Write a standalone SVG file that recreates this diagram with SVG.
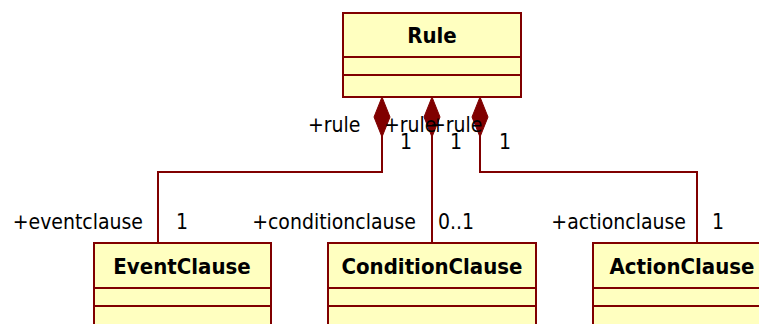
<svg xmlns="http://www.w3.org/2000/svg" width="759" height="324" viewBox="0 0 759 324">
<style>
.box{fill:#ffffc0;stroke:#800000;stroke-width:2}
.div{stroke:#800000;stroke-width:2}
.conn{fill:none;stroke:#800000;stroke-width:2}
.dia{fill:#800000;stroke:#800000;stroke-width:1}
.t{font-family:"DejaVu Sans Condensed","DejaVu Sans",sans-serif;font-size:22px;font-weight:bold;fill:#000;text-anchor:middle}
.l{font-family:"DejaVu Sans Condensed","DejaVu Sans",sans-serif;font-size:21px;fill:#000}
</style>
<rect width="759" height="324" fill="#fff"/>
<g id="connectors">
<polyline class="conn" points="382,117 382,172 158,172 158,243"/>
<polyline class="conn" points="432,117 432,243"/>
<polyline class="conn" points="480,117 480,172 697,172 697,243"/>
<polygon class="dia" points="382,97 390,117 382,137 374,117"/>
<polygon class="dia" points="432,97 440,117 432,137 424,117"/>
<polygon class="dia" points="480,97 488,117 480,137 472,117"/>
<text class="l" x="308" y="132">+rule</text>
<text class="l" x="384" y="132">+rule</text>
<text class="l" x="430" y="132">+rule</text>
<text class="l" x="400" y="149">1</text>
<text class="l" x="450" y="149">1</text>
<text class="l" x="499" y="149">1</text>
<text class="l" x="143" y="229" text-anchor="end">+eventclause</text>
<text class="l" x="176" y="229">1</text>
<text class="l" x="416" y="229" text-anchor="end">+conditionclause</text>
<text class="l" x="438" y="229">0..1</text>
<text class="l" x="686" y="229" text-anchor="end">+actionclause</text>
<text class="l" x="712" y="229">1</text>
</g>
<g id="Rule">
<rect class="box" x="343" y="13" width="178" height="84"/>
<line class="div" x1="343" y1="57" x2="521" y2="57"/>
<line class="div" x1="343" y1="75" x2="521" y2="75"/>
<text class="t" x="432" y="43">Rule</text>
</g>
<g id="EventClause">
<rect class="box" x="94" y="243" width="177" height="100"/>
<line class="div" x1="94" y1="288" x2="271" y2="288"/>
<line class="div" x1="94" y1="306" x2="271" y2="306"/>
<text class="t" x="182" y="274">EventClause</text>
</g>
<g id="ConditionClause">
<rect class="box" x="328" y="243" width="208" height="100"/>
<line class="div" x1="328" y1="288" x2="536" y2="288"/>
<line class="div" x1="328" y1="306" x2="536" y2="306"/>
<text class="t" x="432" y="274">ConditionClause</text>
</g>
<g id="ActionClause">
<rect class="box" x="593" y="243" width="180" height="100"/>
<line class="div" x1="593" y1="288" x2="773" y2="288"/>
<line class="div" x1="593" y1="306" x2="773" y2="306"/>
<text class="t" x="682" y="274">ActionClause</text>
</g>
</svg>
